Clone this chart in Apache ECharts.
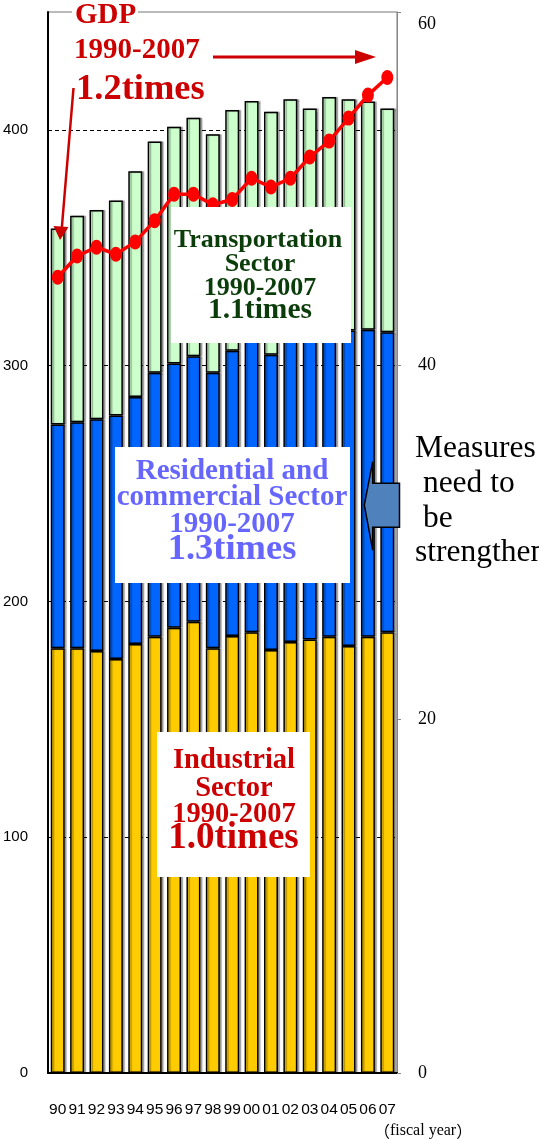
<!DOCTYPE html>
<html>
<head>
<meta charset="utf-8">
<title>CO2 emissions by sector and GDP, FY1990-2007</title>
<script src="https://cdn.jsdelivr.net/npm/echarts@6/dist/echarts.min.js"></script>
<style>
  html, body { margin: 0; padding: 0; background: #fff; }
  #chart { width: 539px; height: 1139px; }
</style>
</head>
<body>
<div id="chart"></div>
<script>
// Fiscal years shown on the category axis
const years = ['90','91','92','93','94','95','96','97','98','99','00','01','02','03','04','05','06','07'];

// Sector values (left axis), stacked bottom to top
const industrial  = [180.2,180.2,179.0,175.6,181.9,185.0,188.8,191.4,180.2,185.3,186.9,179.4,182.8,183.9,185.0,181.1,185.0,186.9];
const residential = [94.9,95.8,98.3,103.3,104.8,112.0,112.1,112.6,116.8,121.0,124.1,125.2,128.2,128.1,128.0,133.8,130.2,127.3];
const transport   = [83.1,87.6,88.7,91.1,95.8,98.1,100.4,101.1,101.2,102.1,101.3,103.1,102.0,97.1,100.9,98.1,96.8,94.9];

// Real GDP (right axis)
const gdp = [45.0,46.2,46.7,46.3,47.0,48.2,49.7,49.7,49.1,49.4,50.6,50.1,50.6,51.8,52.7,54.0,55.3,56.3];

// Axis ranges and tick steps
const leftMax = 450, leftStep = 100;
const rightMax = 60, rightStep = 20;

const SERIF = "'Liberation Serif', 'Times New Roman', serif";
const SANS = "'Liberation Sans', Arial, sans-serif";
const CJK = "'Noto Sans CJK JP', sans-serif";

function label(text, x, y, size, color, align, weight) {
  const plain = weight === 'normal';
  return {
    type: 'text', z: 110,
    style: Object.assign({
      text: text, x: x, y: y,
      font: (weight || 'bold') + ' ' + size + 'px ' + SERIF,
      fill: color, textAlign: align || 'center', textVerticalAlign: 'middle'
    }, plain ? {} : {
      shadowColor: 'rgba(0,0,0,0.35)', shadowBlur: 3, shadowOffsetX: 2, shadowOffsetY: 2
    })
  };
}

function whiteBox(x, y, w, h) {
  return { type: 'rect', z: 100, shape: { x: x, y: y, width: w, height: h }, style: { fill: '#fff' } };
}

const barStyle = (color) => ({
  color: color,
  borderColor: '#000',
  borderWidth: 1.5,
  shadowColor: 'rgba(0,0,0,0.3)',
  shadowBlur: 1,
  shadowOffsetX: 2,
  shadowOffsetY: 0
});

const chart = echarts.init(document.getElementById('chart'), null, { renderer: 'canvas' });

chart.setOption({
  animation: false,
  backgroundColor: '#fff',
  grid: {
    left: 47, right: 142, top: 12, bottom: 66,
    show: true, borderColor: '#777', borderWidth: 1
  },
  xAxis: {
    type: 'category',
    data: years,
    axisLine: { lineStyle: { color: '#000', width: 2 } },
    axisTick: { inside: true, length: 5, lineStyle: { color: '#333' } },
    axisLabel: { fontFamily: SANS, fontSize: 15.5, color: '#000', margin: 29, interval: 0 }
  },
  yAxis: [
    {
      type: 'value', min: 0, max: leftMax, interval: leftStep,
      axisLine: { show: true, lineStyle: { color: '#000', width: 2 } },
      axisTick: { show: false },
      axisLabel: { fontFamily: SANS, fontSize: 15, color: '#000', margin: 20, showMaxLabel: false },
      splitLine: { show: true, showMinLine: false, showMaxLine: false, lineStyle: { color: '#000', type: [4, 3], width: 1 } }
    },
    {
      type: 'value', min: 0, max: rightMax, interval: rightStep, position: 'right',
      axisLine: { show: true, lineStyle: { color: '#888', width: 1 } },
      axisTick: { show: true, length: 4, lineStyle: { color: '#888' } },
      axisLabel: {
        fontFamily: SERIF, fontSize: 18, color: '#000', margin: 21,
        formatter: (v) => v === rightMax ? '{top|' + v + '}' : String(v),
        rich: { top: { fontFamily: SERIF, fontSize: 18, color: '#000', padding: [24, 0, 0, 0] } }
      },
      splitLine: { show: false }
    }
  ],
  series: [
    { name: 'Industrial Sector', type: 'bar', stack: 'total', data: industrial, barCategoryGap: '28%', itemStyle: barStyle('#ffcc00') },
    { name: 'Residential and commercial Sector', type: 'bar', stack: 'total', data: residential, itemStyle: barStyle('#0066ff') },
    { name: 'Transportation Sector', type: 'bar', stack: 'total', data: transport, itemStyle: barStyle('#ccffcc') },
    {
      name: 'GDP', type: 'line', yAxisIndex: 1, data: gdp, z: 5,
      symbol: 'circle', symbolSize: [12, 15],
      lineStyle: { color: '#ff0000', width: 3.5 },
      itemStyle: { color: '#ff0000' }
    }
  ],
  graphic: [
    // GDP annotation
    whiteBox(72, 3, 66, 26),
    label('GDP', 75, 16, 29, '#cc0000', 'left'),
    label('1990-2007', 74, 51, 29, '#cc0000', 'left'),
    label('1.2times', 76, 90, 36.5, '#cc0000', 'left'),
    { type: 'line', z: 105, shape: { x1: 213, y1: 57, x2: 358, y2: 57 }, style: { stroke: '#cc0000', lineWidth: 3 } },
    { type: 'polygon', z: 105, shape: { points: [[355, 50], [376, 57], [355, 64]] }, style: { fill: '#cc0000' } },
    { type: 'line', z: 105, shape: { x1: 73.5, y1: 88, x2: 61.8, y2: 228 }, style: { stroke: '#cc0000', lineWidth: 2.5 } },
    { type: 'polygon', z: 105, shape: { points: [[53.5, 226], [68.5, 227], [60, 240]] }, style: { fill: '#cc0000' } },

    // Transportation sector box
    whiteBox(171, 207, 180, 136),
    label('Transportation', 258, 240, 26, '#0b3d0b'),
    label('Sector', 260, 264.5, 26, '#0b3d0b'),
    label('1990-2007', 260, 288, 26, '#0b3d0b'),
    label('1.1times', 260, 310, 29.5, '#0b3d0b'),

    // Residential and commercial sector box
    whiteBox(115, 447, 235, 136),
    label('Residential and', 232, 472, 29, '#6666ff'),
    label('commercial Sector', 232, 497.5, 29, '#6666ff'),
    label('1990-2007', 232, 524.5, 29, '#6666ff'),
    label('1.3times', 232, 549.5, 36.5, '#6666ff'),

    // Industrial sector box
    whiteBox(157, 732, 153, 145),
    label('Industrial', 234, 761, 28.5, '#cc0000'),
    label('Sector', 234, 788.5, 28.5, '#cc0000'),
    label('1990-2007', 234, 814.5, 28.5, '#cc0000'),
    label('1.0times', 233.5, 838.5, 37, '#cc0000'),

    // Block arrow pointing at the residential bars
    {
      type: 'polygon', z: 105,
      shape: { points: [[364.3, 505], [372.7, 461.7], [372.7, 483.3], [399.5, 483.3], [399.5, 527.3], [372.7, 527.3], [372.7, 550]] },
      style: { fill: '#4f81bd', stroke: '#000', lineWidth: 1.5 }
    },
    label('Measures', 415, 449, 31.5, '#000', 'left', 'normal'),
    label(' need to', 415, 484, 31.5, '#000', 'left', 'normal'),
    label(' be', 415, 519, 31.5, '#000', 'left', 'normal'),
    label('strengthened', 415, 552.5, 31.5, '#000', 'left', 'normal'),

    // Axis unit, with full-width brackets
    {
      type: 'text', z: 110,
      style: {
        text: '{p|（}fiscal year{p|）}', x: 374, y: 1131,
        font: '16px ' + SERIF, fill: '#000', textAlign: 'left', textVerticalAlign: 'middle',
        rich: { p: { fontFamily: CJK, fontSize: 16, fill: '#000' } }
      }
    }
  ]
});
</script>
</body>
</html>
